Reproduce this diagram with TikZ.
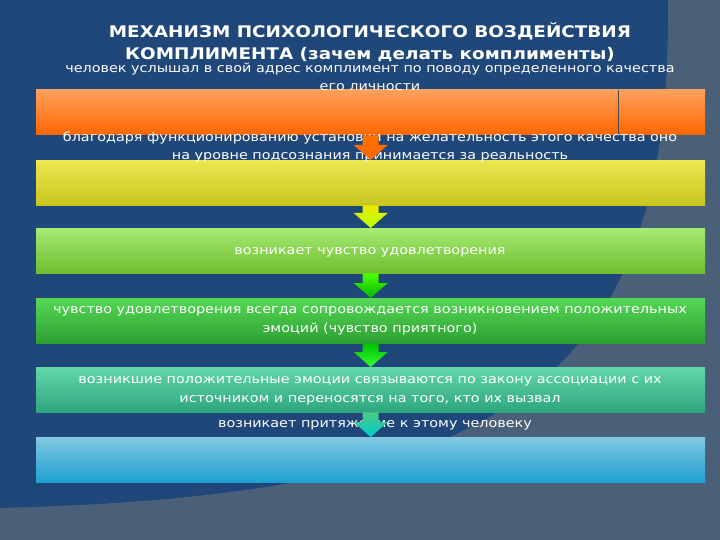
\documentclass[tikz,border=0pt]{standalone}
\usepackage{fontspec}
\setmainfont{DejaVu Sans}[FakeStretch=1.15]
\usetikzlibrary{calc}
\definecolor{bgblue}{HTML}{1F477A}
\definecolor{bglight}{HTML}{4A5F78}
\tikzset{
  box/.style={minimum width=669pt,minimum height=45pt,inner sep=0pt,anchor=north west},
  txt/.style={text=white,font=\fontsize{12.5}{18.5}\selectfont,align=center,inner sep=0pt},
}
\newcommand{\arr}[4]{\shade[top color=#3,bottom color=#4] ($(#1.south)+(-8,0)$) -- ($(#1.south)+(8,0)$) -- ($(#2.north)+(8,-15)$) -- ($(#2.north)+(17,-15)$) -- (#2.north) -- ($(#2.north)+(-17,-15)$) -- ($(#2.north)+(-8,-15)$) -- cycle;}
\begin{document}
\begin{tikzpicture}[x=1pt,y=-1pt]
\fill[bgblue] (0,0) rectangle (720,540);
\fill[bglight] (0,540) -- (0,508) .. controls (500,495) and (672,390) .. (668,0) -- (720,0) -- (720,540) -- cycle;
\useasboundingbox (0,0) rectangle (720,540);
% title
\node[txt,font=\fontsize{16}{22}\selectfont\bfseries] (title) at (370,42) {МЕХАНИЗМ ПСИХОЛОГИЧЕСКОГО ВОЗДЕЙСТВИЯ\\КОМПЛИМЕНТА (зачем делать комплименты)};
% boxes
\shade[top color=orange!60!white!90!red, bottom color=orange!80!red] (36,90) rectangle (705,135);
\node[box] (b1) at (36,90) {};
\draw[black!70] (618,90) -- (618,135);
\node[box,top color={rgb,255:red,235;green,232;blue,80},bottom color={rgb,255:red,200;green,198;blue,30}] (b2) at (36,160) {};
\node[box,top color={rgb,255:red,165;green,235;blue,115},bottom color={rgb,255:red,110;green,190;blue,45}] (b3) at (36,228) {};
\node[box,top color={rgb,255:red,85;green,215;blue,85},bottom color={rgb,255:red,45;green,160;blue,50}] (b4) at (36,298) {};
\node[box,top color={rgb,255:red,100;green,215;blue,170},bottom color={rgb,255:red,45;green,165;blue,125}] (b5) at (36,367) {};
\node[box,top color={rgb,255:red,130;green,200;blue,225},bottom color={rgb,255:red,30;green,160;blue,210}] (b6) at (36,437) {};
% texts
\node[txt] (t1) at (370,77) {человек услышал в свой адрес комплимент по поводу определенного качества\\его личности};
\node[txt] (t2) at (370,147) {благодаря функционированию установки на желательность этого качества оно\\на уровне подсознания принимается за реальность};
\node[txt] (t3) at (370,252) {возникает чувство удовлетворения};
\node[txt] (t4) at (370,321) {чувство удовлетворения всегда сопровождается возникновением положительных\\эмоций (чувство приятного)};
\node[txt] (t5) at (370,391) {возникшие положительные эмоции связываются по закону ассоциации с их\\источником и переносятся на того, кто их вызвал};
\node[txt] (t6) at (375,425) {возникает притяжение к этому человеку};
% arrows
\arr{b1}{b2}{orange!90!red}{orange!80!red}
\arr{b2}{b3}{yellow!85!olive}{yellow!70!green}
\arr{b3}{b4}{green!60!lime}{green!70!black}
\arr{b4}{b5}{green!75!black}{green!80}
\arr{b5}{b6}{teal!60!green!70}{cyan!60!teal}
\end{tikzpicture}
\end{document}
